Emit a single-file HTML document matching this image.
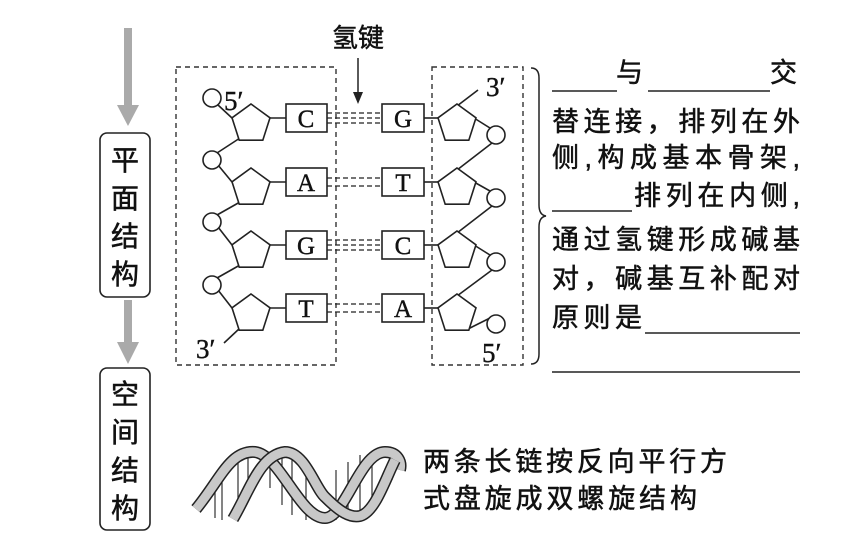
<!DOCTYPE html>
<html><head><meta charset="utf-8"><style>
html,body{margin:0;padding:0;background:#fff;}
svg{display:block;}
text{font-family:"Liberation Serif","Noto Serif CJK SC",serif;fill:#111;}
.cj{font-family:"Liberation Sans","Noto Sans CJK SC",sans-serif;stroke:#111;stroke-width:0.5;}
</style></head><body>
<svg width="867" height="556" viewBox="0 0 867 556" xmlns="http://www.w3.org/2000/svg">
<defs>
<polygon id="pent" points="0,-20 19,-6.2 11.8,16.2 -11.8,16.2 -19,-6.2" fill="#fff" stroke="#222" stroke-width="1.6"/>
</defs>
<g fill="#aaa">
<rect x="124" y="28" width="8" height="80"/><polygon points="117,105 139,105 128,126"/>
<rect x="124" y="300" width="8" height="44"/><polygon points="117,342 139,342 128,364"/>
</g>
<rect x="100" y="133" width="50" height="164" rx="7" fill="#fff" stroke="#222" stroke-width="1.6"/>
<rect x="100" y="368" width="50" height="162" rx="7" fill="#fff" stroke="#222" stroke-width="1.6"/>
<g font-size="28" text-anchor="middle">
<text class="cj" x="125" y="170">平</text><text class="cj" x="125" y="208">面</text><text class="cj" x="125" y="246">结</text><text class="cj" x="125" y="284">构</text>
<text class="cj" x="125" y="404">空</text><text class="cj" x="125" y="442">间</text><text class="cj" x="125" y="480">结</text><text class="cj" x="125" y="518">构</text>
</g>
<g fill="none" stroke="#333" stroke-width="1.4" stroke-dasharray="5,4">
<rect x="176" y="67" width="160" height="298"/>
<rect x="432" y="67" width="91" height="298"/>
</g>
<path d="M531,68 Q539,68 539,78 L539,205 Q539,215 546,216 Q539,217 539,227 L539,354 Q539,364 531,364" fill="none" stroke="#222" stroke-width="1.5"/>
<text class="cj" x="358" y="47" font-size="26" text-anchor="middle">氢键</text>
<line x1="358" y1="58" x2="358" y2="96" stroke="#222" stroke-width="1.5"/>
<polygon points="353,92 363,92 358,104" fill="#222"/>
<g stroke="#222" stroke-width="1.6" fill="none">
<line x1="218" y1="105" x2="232" y2="118"/>
<line x1="240" y1="138" x2="217" y2="153"/>
<line x1="218" y1="165" x2="232" y2="182"/>
<line x1="240" y1="202" x2="217" y2="215"/>
<line x1="218" y1="227" x2="232" y2="245"/>
<line x1="240" y1="265" x2="217" y2="278"/>
<line x1="218" y1="290" x2="232" y2="308"/>
<line x1="240" y1="328" x2="224" y2="343"/>
<line x1="268" y1="118" x2="286" y2="118"/><line x1="268" y1="182" x2="286" y2="182"/>
<line x1="268" y1="245" x2="286" y2="245"/><line x1="268" y1="308" x2="286" y2="308"/>
<line x1="424" y1="118" x2="440" y2="118"/><line x1="424" y1="182" x2="440" y2="182"/>
<line x1="424" y1="245" x2="440" y2="245"/><line x1="424" y1="308" x2="440" y2="308"/>
<line x1="457" y1="106" x2="478" y2="90"/>
<line x1="474" y1="118" x2="490" y2="128"/>
<line x1="492" y1="143" x2="457" y2="170"/>
<line x1="474" y1="182" x2="490" y2="191"/>
<line x1="492" y1="206" x2="457" y2="233"/>
<line x1="474" y1="245" x2="490" y2="255"/>
<line x1="492" y1="270" x2="457" y2="296"/>
<line x1="468" y1="329" x2="490" y2="318"/>
</g>
<use href="#pent" x="251" y="124"/><use href="#pent" x="251" y="188"/><use href="#pent" x="251" y="251"/><use href="#pent" x="251" y="314"/>
<use href="#pent" x="457" y="124"/><use href="#pent" x="457" y="188"/><use href="#pent" x="457" y="251"/><use href="#pent" x="457" y="314"/>
<g fill="#fff" stroke="#222" stroke-width="1.6">
<circle cx="212" cy="98" r="9"/><circle cx="212" cy="160" r="9"/><circle cx="212" cy="222" r="9"/><circle cx="212" cy="285" r="9"/>
<circle cx="496" cy="135" r="9"/><circle cx="496" cy="198" r="9"/><circle cx="496" cy="262" r="9"/><circle cx="496" cy="324" r="9"/>
</g>
<g fill="#fff" stroke="#222" stroke-width="1.6">
<rect x="286" y="104" width="41" height="28"/><rect x="286" y="168" width="41" height="28"/><rect x="286" y="231" width="41" height="28"/><rect x="286" y="294" width="41" height="28"/>
<rect x="382" y="104" width="42" height="28"/><rect x="382" y="168" width="42" height="28"/><rect x="382" y="231" width="42" height="28"/><rect x="382" y="294" width="42" height="28"/>
</g>
<g font-size="25" text-anchor="middle" stroke="#111" stroke-width="0.4">
<text x="306" y="127">C</text><text x="306" y="191">A</text><text x="306" y="254">G</text><text x="306" y="317">T</text>
<text x="403" y="127">G</text><text x="403" y="191">T</text><text x="403" y="254">C</text><text x="403" y="317">A</text>
</g>
<g stroke="#222" stroke-width="1.3" stroke-dasharray="5,3">
<line x1="327" y1="113" x2="382" y2="113"/><line x1="327" y1="118" x2="382" y2="118"/><line x1="327" y1="123" x2="382" y2="123"/>
<line x1="327" y1="178" x2="382" y2="178"/><line x1="327" y1="186" x2="382" y2="186"/>
<line x1="327" y1="240" x2="382" y2="240"/><line x1="327" y1="245" x2="382" y2="245"/><line x1="327" y1="250" x2="382" y2="250"/>
<line x1="327" y1="304" x2="382" y2="304"/><line x1="327" y1="312" x2="382" y2="312"/>
</g>
<g font-size="27" stroke="#111" stroke-width="0.4">
<text x="224" y="110">5′</text><text x="196" y="358">3′</text>
<text x="486" y="96">3′</text><text x="482" y="362">5′</text>
</g>
<g font-size="27">
<text class="cj" x="616" y="82">与</text><text class="cj" x="770" y="82">交</text>
<text class="cj" x="552" y="131" textLength="248">替连接，排列在外</text>
<text class="cj" x="552" y="167" textLength="248">侧,构成基本骨架,</text>
<text class="cj" x="634" y="205" textLength="166">排列在内侧,</text>
<text class="cj" x="552" y="249" textLength="248">通过氢键形成碱基</text>
<text class="cj" x="552" y="288" textLength="248">对，碱基互补配对</text>
<text class="cj" x="552" y="327" textLength="90">原则是</text>
<text class="cj" x="423" y="471" textLength="304">两条长链按反向平行方</text>
<text class="cj" x="423" y="508" textLength="274">式盘旋成双螺旋结构</text>
</g>
<g stroke="#222" stroke-width="1.4">
<line x1="552" y1="91" x2="617" y2="91"/><line x1="648" y1="91" x2="770" y2="91"/>
<line x1="552" y1="211" x2="632" y2="211"/>
<line x1="645" y1="333" x2="800" y2="333"/>
<line x1="552" y1="372" x2="800" y2="372"/>
</g>
<g stroke="#333" stroke-width="1.2">
<line x1="215" y1="490" x2="215" y2="518"/><line x1="222" y1="475" x2="222" y2="520"/>
<line x1="238" y1="455" x2="238" y2="510"/><line x1="248" y1="452" x2="248" y2="495"/>
<line x1="270" y1="452" x2="270" y2="488"/><line x1="282" y1="455" x2="282" y2="505"/>
<line x1="292" y1="458" x2="292" y2="515"/><line x1="306" y1="470" x2="306" y2="520"/>
<line x1="336" y1="470" x2="336" y2="520"/><line x1="348" y1="462" x2="348" y2="520"/>
<line x1="360" y1="455" x2="360" y2="512"/><line x1="372" y1="452" x2="372" y2="500"/>
<line x1="392" y1="455" x2="392" y2="480"/>
</g>
<g fill="none">
<path d="M196,509 C220,480 230,450 255,452 C280,455 300,518 325,518 C345,518 360,452 385,452 C398,452 402,462 400,470" stroke="#222" stroke-width="12"/>
<path d="M196,509 C220,480 230,450 255,452 C280,455 300,518 325,518 C345,518 360,452 385,452 C398,452 402,462 400,470" stroke="#c8c8c8" stroke-width="9"/>
<path d="M233,519 C250,490 260,455 285,452 C305,452 315,488 325,497 C340,512 350,518 360,516 C375,512 385,480 395,460" stroke="#222" stroke-width="12"/>
<path d="M233,519 C250,490 260,455 285,452 C305,452 315,488 325,497 C340,512 350,518 360,516 C375,512 385,480 395,460" stroke="#c8c8c8" stroke-width="9"/>
</g>
</svg>
</body></html>
